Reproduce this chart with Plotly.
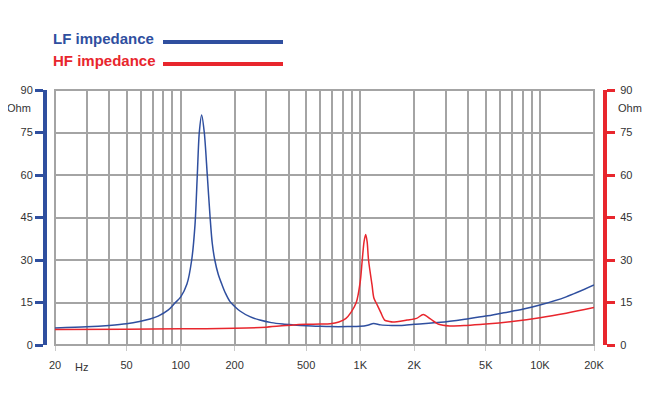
import plotly.graph_objects as go
import math

# ---- data ----
lf_freq = [20, 30, 40, 50, 60, 67.6, 75, 85.5, 93, 100, 108.5, 115.3, 120.3, 123.9, 127.1, 131, 135.5, 140.8, 146, 150, 155, 162, 170, 178, 188, 200, 214, 243, 276, 320, 370, 424, 500, 600, 680, 850, 1000, 1100, 1186, 1300, 1500, 1700, 2000, 2800, 4000, 5000, 6300, 8000, 10000, 14000, 20000]
lf_ohm = [6.0, 6.4, 6.9, 7.5, 8.4, 9.2, 10.2, 12.4, 14.8, 16.9, 21.5, 30.0, 42.4, 60.0, 75.0, 81.2, 75.0, 60.0, 45.0, 36.0, 30.0, 25.0, 21.3, 18.2, 15.4, 13.6, 12.0, 10.0, 8.8, 7.9, 7.4, 7.1, 6.8, 6.6, 6.5, 6.5, 6.6, 7.0, 7.6, 7.1, 6.9, 6.9, 7.3, 8.0, 9.3, 10.2, 11.4, 12.6, 14.1, 17.0, 21.2]

hf_freq = [20, 50, 100, 200, 300, 424, 500, 600, 680, 760, 830, 890, 950, 1000, 1026, 1050, 1072, 1092, 1112, 1163, 1192, 1244, 1300, 1366, 1450, 1518, 1821, 2060, 2243, 2457, 2735, 3143, 3900, 5000, 7000, 10000, 14000, 20000]
hf_ohm = [5.5, 5.6, 5.7, 5.9, 6.3, 7.1, 7.3, 7.4, 7.5, 8.1, 9.3, 11.6, 15.0, 22.4, 30.0, 36.5, 39.0, 36.5, 30.0, 21.2, 16.5, 14.1, 11.5, 8.8, 8.3, 8.1, 8.8, 9.4, 10.8, 9.2, 7.3, 6.7, 6.9, 7.4, 8.3, 9.6, 11.2, 13.2]

x_tick_vals = [20, 50, 100, 200, 500, 1000, 2000, 5000, 10000, 20000]
x_tick_text = ["20", "50", "100", "200", "500", "1K", "2K", "5K", "10K", "20K"]
x_minor_vals = [30, 40, 60, 70, 80, 90, 300, 400, 600, 700, 800, 900, 3000, 4000, 6000, 7000, 8000, 9000]
y_tick_vals = [0, 15, 30, 45, 60, 75, 90]

BLUE = "#2f4f9f"
RED = "#e8262d"
GRID = "#a4a4a4"
FONT = "Liberation Sans, Arial, sans-serif"

W, H = 650, 399
OFF = 8  # page body margin offset
# target screen positions: y-axis lines at 45 / 605, plot top 90, bottom 345
ML = 45 - OFF
MR = W - (605 - OFF)
MT = 90 - OFF
MB = H - (345 - OFF)
PW, PH = W - ML - MR, H - MT - MB


def px(x):
    return (x - OFF - ML) / PW


def py(y):
    return (H - MB - (y - OFF)) / PH


fig = go.Figure()
fig.add_trace(go.Scatter(x=lf_freq, y=lf_ohm, mode="lines", line=dict(color=BLUE, width=1.5, shape="spline", smoothing=0.8),
                         xaxis="x", yaxis="y", showlegend=False, hoverinfo="skip"))
fig.add_trace(go.Scatter(x=hf_freq, y=hf_ohm, mode="lines", line=dict(color=RED, width=1.5, shape="spline", smoothing=0.8),
                         xaxis="x", yaxis="y2", showlegend=False, hoverinfo="skip"))

fig.update_layout(
    width=W, height=H,
    margin=dict(l=ML, r=MR, t=MT, b=MB, pad=0, autoexpand=False),
    paper_bgcolor="white", plot_bgcolor="white",
    font=dict(family=FONT, size=11, color="#333333"),
    xaxis=dict(
        type="log", range=[math.log10(20), math.log10(20000)],
        domain=[px(55), px(594)], automargin=False,
        tickvals=x_tick_vals, ticktext=x_tick_text,
        showgrid=True, gridcolor=GRID, gridwidth=2,
        ticks="outside", ticklen=5, tickcolor="#c8c8c8", tickwidth=1,
        ticklabelstandoff=5,
        minor=dict(tickvals=x_minor_vals, showgrid=True, gridcolor=GRID, gridwidth=2, ticks=""),
        showline=False, zeroline=False,
        tickfont=dict(size=11, color="#333333"),
    ),
    yaxis=dict(
        range=[0, 90], tickvals=y_tick_vals, automargin=False,
        anchor="free", position=0, side="left",
        showgrid=True, gridcolor=GRID, gridwidth=2, zeroline=False,
        showline=True, linecolor=BLUE, linewidth=4,
        ticks="outside", ticklen=8, tickwidth=3, tickcolor=BLUE,
        tickfont=dict(size=11, color="#333333"),
    ),
    yaxis2=dict(
        range=[0, 90], tickvals=y_tick_vals, automargin=False,
        anchor="free", position=1, side="right", overlaying="y",
        showgrid=False, zeroline=False,
        showline=True, linecolor=RED, linewidth=4,
        ticks="outside", ticklen=8, tickwidth=3, tickcolor=RED,
        ticklabelstandoff=3,
        tickfont=dict(size=11, color="#333333"),
    ),
)

# plot frame
fig.add_shape(type="rect", xref="x domain", yref="y domain", x0=0, x1=1, y0=0, y1=1,
              line=dict(color=GRID, width=2), layer="below")

# legend (custom)
fig.add_annotation(x=px(51), y=py(38), xref="paper", yref="paper", text="<b>LF impedance</b>",
                   showarrow=False, xanchor="left", yanchor="middle",
                   font=dict(family=FONT, size=15, color=BLUE))
fig.add_annotation(x=px(51), y=py(61), xref="paper", yref="paper", text="<b>HF impedance</b>",
                   showarrow=False, xanchor="left", yanchor="middle",
                   font=dict(family=FONT, size=15, color=RED))
fig.add_shape(type="line", xref="paper", yref="paper", x0=px(163), x1=px(283), y0=py(42), y1=py(42),
              line=dict(color=BLUE, width=4))
fig.add_shape(type="line", xref="paper", yref="paper", x0=px(163), x1=px(283), y0=py(64), y1=py(64),
              line=dict(color=RED, width=4))

# units
fig.add_annotation(x=px(19), y=py(108), xref="paper", yref="paper", text="Ohm", showarrow=False,
                   xanchor="center", yanchor="middle", font=dict(size=11, color="#333333"))
fig.add_annotation(x=px(630), y=py(108), xref="paper", yref="paper", text="Ohm", showarrow=False,
                   xanchor="center", yanchor="middle", font=dict(size=11, color="#333333"))
fig.add_annotation(x=px(81), y=py(367), xref="paper", yref="paper", text="Hz", showarrow=False,
                   xanchor="center", yanchor="middle", font=dict(size=11, color="#333333"))

fig.write_html("out.html")
